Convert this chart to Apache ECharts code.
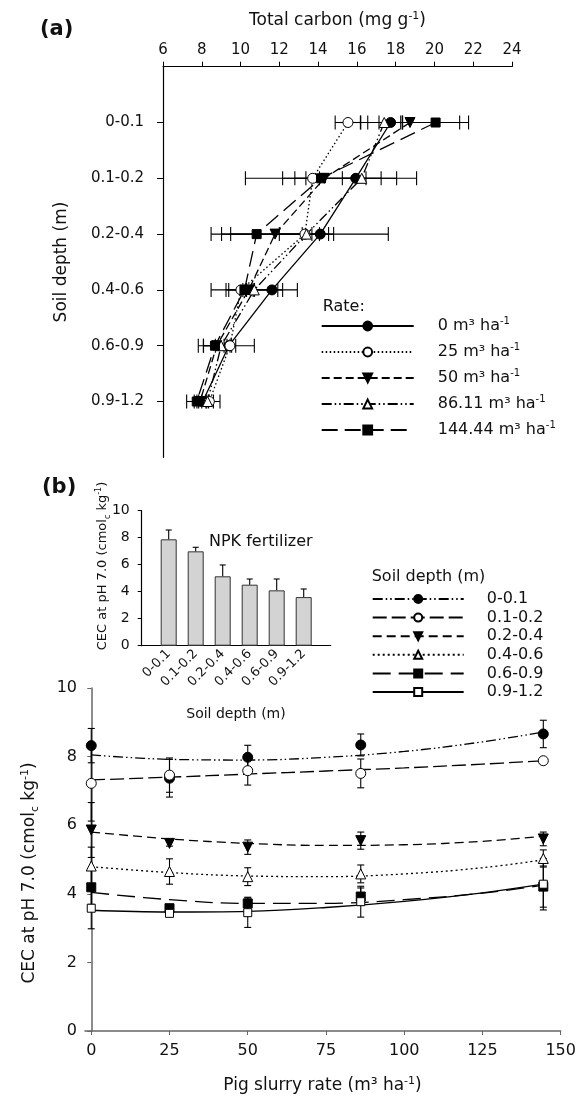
<!DOCTYPE html>
<html><head><meta charset="utf-8">
<script src="https://cdn.jsdelivr.net/npm/echarts@6/dist/echarts.min.js"></script>
<style>html,body{margin:0;padding:0;background:#fff}#c{width:579px;height:1098px}</style>
</head><body><div id="c"></div><script>
const FONT = 'DejaVu Sans';
// ---------- Panel (a): total carbon by depth ----------
const depthLabels = ['0-0.1','0.1-0.2','0.2-0.4','0.4-0.6','0.6-0.9','0.9-1.2'];
const carbonTicks = [6,8,10,12,14,16,18,20,22,24];
const rateNames = ['0 m³ ha-1','25 m³ ha-1','50 m³ ha-1','86.11 m³ ha-1','144.44 m³ ha-1'];
const carbonRate0   = [17.74, 15.94, 14.11, 11.62, 9.40, 8.05];
const carbonRate25  = [15.54, 13.72, 13.32, 10.02, 9.45, 8.39];
const carbonRate50  = [18.74, 14.32, 11.78, 10.42, 8.77, 7.91];
const carbonRate86  = [17.41, 16.25, 13.40, 10.71, 9.00, 8.30];
const carbonRate144 = [20.06, 14.15, 10.83, 10.20, 8.68, 7.74];
const carbonErr0   = [0.60, 3.14, 0.43, 1.31, 1.31, 0.30];
const carbonErr25  = [0.66, 0.35, 4.30, 0.63, 0.30, 0.55];
const carbonErr50  = [2.56, 2.15, 2.29, 0.30, 0.69, 0.30];
const carbonErr86  = [0.85, 1.00, 1.40, 1.46, 0.30, 0.30];
const carbonErr144 = [1.70, 3.90, 2.35, 1.72, 0.86, 0.52];
// ---------- Panel (b) inset: NPK fertilizer ----------
const npkCEC = [7.88, 6.99, 5.14, 4.52, 4.10, 3.60];
const npkErr = [0.69, 0.30, 0.84, 0.42, 0.84, 0.60];
// ---------- Panel (b) main: CEC vs slurry rate ----------
const slurryRates = [0, 25, 50, 86.11, 144.44];
const slurryTicks = [0, 25, 50, 75, 100, 125, 150];
const cec01   = [8.32, 7.37, 7.98, 8.34, 8.66];
const cec0102 = [7.22, 7.46, 7.59, 7.51, 7.88];
const cec0204 = [5.86, 5.47, 5.36, 5.55, 5.60];
const cec0406 = [4.81, 4.65, 4.50, 4.58, 5.03];
const cec0609 = [4.19, 3.58, 3.72, 3.92, 4.21];
const cec0912 = [3.58, 3.43, 3.45, 3.77, 4.28];
const cecErr01   = [0.50, 0.55, 0.35, 0.32, 0.40];
const cecErr0102 = [1.10, 0.50, 0.42, 0.42, 0.05];
const cecErr0204 = [0.80, 0.08, 0.21, 0.25, 0.20];
const cecErr0406 = [0.55, 0.37, 0.26, 0.26, 0.25];
const cecErr0609 = [0.50, 0.05, 0.18, 0.25, 0.60];
const cecErr0912 = [0.60, 0.06, 0.43, 0.45, 0.75];
// fitted curves read at these rates
const fitRates = [0, 25, 50, 75, 100, 125, 144.44];
const fit01   = [8.05, 7.92, 7.90, 7.98, 8.15, 8.43, 8.72];
const fit0102 = [7.32, 7.40, 7.49, 7.58, 7.67, 7.78, 7.88];
const fit0204 = [5.80, 5.60, 5.47, 5.41, 5.43, 5.53, 5.68];
const fit0406 = [4.79, 4.62, 4.52, 4.50, 4.58, 4.76, 4.99];
const fit0609 = [4.04, 3.83, 3.72, 3.72, 3.83, 4.02, 4.25];
const fit0912 = [3.52, 3.47, 3.49, 3.60, 3.78, 4.03, 4.28];

const TXT = '#111';
function rich(fs, padLeft) {
  const ss = Math.round(fs * 0.65);
  return {
    t: {fontSize: fs, fontFamily: FONT, color: TXT, lineHeight: fs + 4, padding: [0,0,0,padLeft||0]},
    u: {fontSize: fs, fontFamily: FONT, color: TXT, lineHeight: fs + 4},
    s: {fontSize: ss, fontFamily: FONT, color: TXT, lineHeight: ss + 1, verticalAlign: 'top'},
    b: {fontSize: ss, fontFamily: FONT, color: TXT, lineHeight: ss + 1, verticalAlign: 'bottom'}
  };
}
function gtext(x, y, text, fs, opts) {
  opts = opts || {};
  return {type: 'text', x: x, y: y, rotation: opts.rot || 0, silent: true,
    style: {text: text, rich: rich(fs), align: opts.align || 'center', verticalAlign: 'middle',
      fontFamily: FONT, fontSize: fs, fontWeight: opts.bold ? 'bold' : 'normal', fill: TXT}};
}

const rateSymbols = [
  {symbol: 'circle', size: 10, color: '#000', rot: 0},
  {symbol: 'circle', size: 10, color: '#fff', rot: 0},
  {symbol: 'triangle', size: 10, color: '#000', rot: 180},
  {symbol: 'triangle', size: 10, color: '#fff', rot: 0},
  {symbol: 'rect', size: 9, color: '#000', rot: 0}
];
const rateDash = ['solid', [1.5, 2.5], [8, 4], [10, 3, 1.5, 3, 1.5, 3], [16, 7]];
const carbonVals = [carbonRate0, carbonRate25, carbonRate50, carbonRate86, carbonRate144];
const carbonErrs = [carbonErr0, carbonErr25, carbonErr50, carbonErr86, carbonErr144];

const depthSymbols = [
  {symbol: 'circle', size: 10, color: '#000', rot: 0},
  {symbol: 'circle', size: 10, color: '#fff', rot: 0},
  {symbol: 'triangle', size: 10, color: '#000', rot: 180},
  {symbol: 'triangle', size: 10, color: '#fff', rot: 0},
  {symbol: 'rect', size: 9, color: '#000', rot: 0},
  {symbol: 'rect', size: 8, color: '#fff', rot: 0}
];
const depthDash = [[10, 3, 1.5, 3, 1.5, 3], [14, 5], [9, 5], [2, 3], [18, 8], 'solid'];
const cecVals = [cec01, cec0102, cec0204, cec0406, cec0609, cec0912];
const cecErrs = [cecErr01, cecErr0102, cecErr0204, cecErr0406, cecErr0609, cecErr0912];
const fitVals = [fit01, fit0102, fit0204, fit0406, fit0609, fit0912];

function hErrRender(capH) {
  return function (params, api) {
    const x = api.value(0), y = api.value(1), e = api.value(2);
    const a = api.coord([x - e, y]), b = api.coord([x + e, y]);
    const st = {stroke: '#000', lineWidth: 1.1};
    return {type: 'group', children: [
      {type: 'line', shape: {x1: a[0], y1: a[1], x2: b[0], y2: b[1]}, style: st},
      {type: 'line', shape: {x1: a[0], y1: a[1] - capH, x2: a[0], y2: a[1] + capH}, style: st},
      {type: 'line', shape: {x1: b[0], y1: b[1] - capH, x2: b[0], y2: b[1] + capH}, style: st}
    ]};
  };
}
function vErrRender(capW, upOnly) {
  return function (params, api) {
    const x = api.value(0), y = api.value(1), e = api.value(2);
    const a = api.coord([x, upOnly ? y : y - e]), b = api.coord([x, y + e]);
    const st = {stroke: '#000', lineWidth: 1.1};
    const ch = [
      {type: 'line', shape: {x1: a[0], y1: a[1], x2: b[0], y2: b[1]}, style: st},
      {type: 'line', shape: {x1: b[0] - capW, y1: b[1], x2: b[0] + capW, y2: b[1]}, style: st}
    ];
    if (!upOnly) ch.push({type: 'line', shape: {x1: a[0] - capW, y1: a[1], x2: a[0] + capW, y2: a[1]}, style: st});
    return {type: 'group', children: ch};
  };
}

const series = [];
// panel (a)
carbonVals.forEach((vals, i) => {
  series.push({type: 'custom', xAxisIndex: 0, yAxisIndex: 0, z: 2, silent: true,
    renderItem: hErrRender(7), encode: {x: 0, y: 1},
    data: vals.map((v, k) => [v, k + 1, carbonErrs[i][k]])});
});
carbonVals.forEach((vals, i) => {
  const s = rateSymbols[i];
  series.push({name: rateNames[i], type: 'line', xAxisIndex: 0, yAxisIndex: 0, z: 3,
    data: vals.map((v, k) => [v, k + 1]),
    symbol: s.symbol, symbolSize: s.size, symbolRotate: s.rot,
    itemStyle: {color: s.color, borderColor: '#000', borderWidth: 1},
    lineStyle: {color: '#000', width: 1.3, type: rateDash[i]}});
});
// inset bars
series.push({type: 'bar', xAxisIndex: 1, yAxisIndex: 1, barWidth: 16, silent: true,
  data: npkCEC.map((v, k) => [k + 1, v]),
  itemStyle: {color: '#d3d3d3', borderColor: '#333', borderWidth: 1}});
series.push({type: 'custom', xAxisIndex: 1, yAxisIndex: 1, z: 3, silent: true,
  renderItem: vErrRender(3, true), encode: {x: 0, y: 1},
  data: npkCEC.map((v, k) => [k + 1, v, npkErr[k]])});
// main
cecVals.forEach((vals, i) => {
  series.push({type: 'custom', xAxisIndex: 2, yAxisIndex: 2, z: 2, silent: true,
    renderItem: vErrRender(3.5, false), encode: {x: 0, y: 1},
    data: vals.map((v, k) => [slurryRates[k], v, cecErrs[i][k]])});
});
fitVals.forEach((vals, i) => {
  const s = depthSymbols[i];
  series.push({name: depthLabels[i], type: 'line', xAxisIndex: 2, yAxisIndex: 2, z: 3, smooth: 0.4,
    showSymbol: false, symbol: s.symbol, symbolSize: s.size, symbolRotate: s.rot,
    data: vals.map((v, k) => [fitRates[k], v]),
    itemStyle: {color: s.color, borderColor: '#000', borderWidth: 1},
    lineStyle: {color: '#000', width: 1.3, type: depthDash[i]}});
});
cecVals.forEach((vals, i) => {
  const s = depthSymbols[i];
  series.push({name: 'pts ' + depthLabels[i], type: 'scatter', xAxisIndex: 2, yAxisIndex: 2, z: 4,
    symbol: s.symbol, symbolSize: s.size, symbolRotate: s.rot,
    data: vals.map((v, k) => [slurryRates[k], v]),
    itemStyle: {color: s.color, borderColor: '#000', borderWidth: 1, opacity: 1}});
});

const axBlack = {lineStyle: {color: '#000', width: 1.2}};
const axGray = {lineStyle: {color: '#666', width: 1.5}};
const option = {
  animation: false,
  backgroundColor: '#fff',
  grid: [
    {left: 163, top: 66.7, width: 349, height: 390.6},
    {left: 141.7, top: 510.7, width: 189, height: 135},
    {left: 85, top: 688, width: 475.7, height: 343}
  ],
  xAxis: [
    {gridIndex: 0, type: 'value', position: 'top', min: 6, max: 24, interval: 2,
      axisLine: axBlack, axisTick: {show: true, length: 5, lineStyle: {color: '#000'}},
      axisLabel: {margin: 9, fontSize: 15, fontFamily: FONT, color: TXT, customValues: carbonTicks},
      splitLine: {show: false}},
    {gridIndex: 1, type: 'value', min: 0, max: 7,
      axisLine: axBlack, axisTick: {show: false},
      axisLabel: {rotate: 45, margin: 6, fontSize: 13, fontFamily: FONT, color: TXT,
        customValues: [1, 2, 3, 4, 5, 6], formatter: v => depthLabels[v - 1] || ''},
      splitLine: {show: false}},
    {gridIndex: 2, type: 'value', min: -2, max: 150,
      axisLine: axGray, axisTick: {show: true, length: 4, lineStyle: {color: '#666'}, customValues: slurryTicks},
      axisLabel: {margin: 12, fontSize: 16, fontFamily: FONT, color: TXT, customValues: slurryTicks},
      splitLine: {show: false}}
  ],
  yAxis: [
    {gridIndex: 0, type: 'value', inverse: true, min: 0, max: 7, interval: 1,
      axisLine: axBlack, axisTick: {show: true, length: 6, lineStyle: {color: '#000'}, customValues: [1, 2, 3, 4, 5, 6]},
      axisLabel: {margin: 19, fontSize: 15, fontFamily: FONT, color: TXT,
        customValues: [1, 2, 3, 4, 5, 6], formatter: v => depthLabels[v - 1] || ''},
      splitLine: {show: false}},
    {gridIndex: 1, type: 'value', min: 0, max: 10, interval: 2,
      axisLine: axBlack, axisTick: {show: true, length: 4, lineStyle: {color: '#000'}},
      axisLabel: {margin: 12, fontSize: 14, fontFamily: FONT, color: TXT},
      splitLine: {show: false}},
    {gridIndex: 2, type: 'value', min: 0, max: 10, interval: 2,
      axisLine: axGray, axisTick: {show: true, length: 4, lineStyle: {color: '#666'}},
      axisLabel: {margin: 8, fontSize: 16, fontFamily: FONT, color: TXT},
      splitLine: {show: false}}
  ],
  legend: [
    {data: rateNames, orient: 'vertical', left: 320.7, top: 316, padding: 0,
      itemWidth: 92, itemHeight: 11, itemGap: 8, selectedMode: false,
      formatter: n => '{t|' + n.slice(0, -2) + '}{s|-1}',
      textStyle: {rich: rich(16, 19)}},
    {data: depthLabels, orient: 'vertical', left: 371.7, top: 591, padding: 0,
      itemWidth: 91, itemHeight: 10, itemGap: 2.6, selectedMode: false,
      formatter: n => '{t|' + n + '}',
      textStyle: {rich: rich(16, 18)}}
  ],
  graphic: [
    gtext(40, 30, '(a)', 21, {bold: true, align: 'left'}),
    gtext(42, 488, '(b)', 21, {bold: true, align: 'left'}),
    gtext(337.5, 21, '{u|Total carbon (mg g}{s|-1}{u|)}', 17),
    gtext(62, 262, '{u|Soil depth (m)}', 17, {rot: Math.PI / 2}),
    gtext(322.7, 307, '{u|Rate:}', 16, {align: 'left'}),
    gtext(209, 542, '{u|NPK fertilizer}', 16, {align: 'left'}),
    gtext(103, 566, '{u|CEC at pH 7.0 (cmol}{b|c}{u| kg}{s|-1}{u|)}', 13, {rot: Math.PI / 2}),
    gtext(236, 714, '{u|Soil depth (m)}', 14),
    gtext(371.7, 577, '{u|Soil depth (m)}', 16, {align: 'left'}),
    gtext(30, 873, '{u|CEC at pH 7.0 (cmol}{b|c}{u| kg}{s|-1}{u|)}', 17, {rot: Math.PI / 2}),
    gtext(322.5, 1086, '{u|Pig slurry rate (m³ ha}{s|-1}{u|)}', 17)
  ],
  series: series
};
const chart = echarts.init(document.getElementById('c'), null, {renderer: 'canvas'});
chart.setOption(option);
</script></body></html>
